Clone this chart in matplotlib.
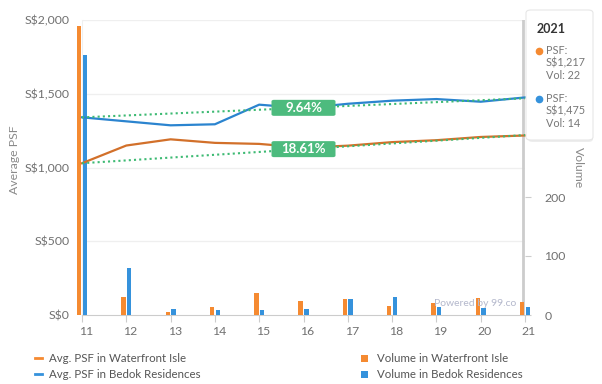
import matplotlib
matplotlib.use("Agg")
import matplotlib.pyplot as plt
from matplotlib.patches import FancyBboxPatch, Rectangle
import matplotlib.transforms as mtrans
import numpy as np

plt.rcParams['font.family'] = ['Lato', 'DejaVu Sans']

years = [11, 12, 13, 14, 15, 16, 17, 18, 19, 20, 21]
year_labels = ["11", "12", "13", "14", "15", "16", "17", "18", "19", "20", "21"]
psf_waterfront = [1029, 1149, 1191, 1167, 1160, 1135, 1148, 1172, 1185, 1207, 1217]
psf_bedok = [1340, 1313, 1286, 1293, 1426, 1402, 1432, 1453, 1464, 1446, 1475]
vol_waterfront = [489, 31, 5, 13, 38, 24, 27, 16, 21, 28, 22]
vol_bedok = [440, 79, 10, 9, 9, 11, 27, 30, 13, 12, 14]
trend_x = [11, 21]
trend_bedok = [1340, 1469]
trend_waterfront = [1029, 1220]
trend_labels = ["9.64%", "18.61%"]
left_ticks = [0, 500, 1000, 1500, 2000]
left_ticklabels = ["S$0", "S$500", "S$1,000", "S$1,500", "S$2,000"]
right_ticks = [0, 100, 200]

ORANGE = "#f58a31"
ORANGE_LINE = "#d2702a"
BLUE = "#3592dc"
BLUE_LINE = "#2b84cf"
GREEN = "#3dba73"
GREEN_BOX = "#4dbb7e"
GRAY_TXT = "#707070"

W, H = 602, 384
fig = plt.figure(figsize=(W / 100, H / 100), dpi=100)

def fx(px):
    return px / W

def fy(py):
    return 1 - py / H

ax = fig.add_axes([fx(82), fy(315), fx(525) - fx(82), fy(20) - fy(315)])
ax2 = ax.twinx()

x = np.array(years, dtype=float)
ax.set_xlim(11, 21)
ax.set_ylim(0, 2000)
ax2.set_ylim(0, 500)

# grid
for t in left_ticks[1:]:
    ax.axhline(t, color="#efefef", lw=0.9, zorder=0)

# bars
bw = 0.1
ax2.bar(x - 0.065, vol_waterfront, width=bw, color=ORANGE, clip_on=False, zorder=2)
ax2.bar(x + 0.065, vol_bedok, width=bw, color=BLUE, clip_on=False, zorder=2)

# PSF lines
ax2.plot(x, psf_waterfront, color=ORANGE_LINE, lw=1.6, zorder=3, transform=ax.transData, clip_on=False)
ax2.plot(x, psf_bedok, color=BLUE_LINE, lw=1.6, zorder=3, transform=ax.transData, clip_on=False)

# trend lines with labels
for series, lab in zip([trend_bedok, trend_waterfront], trend_labels):
    ax2.plot(trend_x, series, color=GREEN, lw=1.5, ls=(0, (1, 1.5)), zorder=4, transform=ax.transData)
    ymid = np.interp(16, trend_x, series)
    ax2.text(16, ymid, lab, transform=ax.transData, ha="center", va="center",
             color="white", fontsize=9.5, fontweight="bold", zorder=6)
    p = ax.transData.transform((16, ymid))
    bx, by = fig.transFigure.inverted().transform(p)
    bg = FancyBboxPatch((bx - fx(32), by - 8 / H), fx(64), 16 / H,
                        boxstyle="round,pad=0,rounding_size=0.004",
                        transform=fig.transFigure, fc=GREEN_BOX, ec="none", zorder=5)
    ax2.add_artist(bg)

# crosshair
ax2.axvline(20.95, color="#cccccc", lw=2, zorder=1.5)

# axes styling
for s in ["top", "right"]:
    ax.spines[s].set_visible(False)
    ax2.spines[s].set_visible(False)
ax.spines["left"].set_color("#f0f0f0")
ax2.spines["left"].set_visible(False)
ax.spines["bottom"].set_color("#cccccc")
ax2.spines["bottom"].set_visible(False)

ax.set_xticks(x)
ax.set_xticklabels(year_labels)
ax.tick_params(axis="x", length=5, color="#cccccc", labelcolor=GRAY_TXT, labelsize=8.8, pad=3)
ax.set_yticks(left_ticks)
ax.set_yticklabels(left_ticklabels)
ax.tick_params(axis="y", length=0, labelcolor=GRAY_TXT, labelsize=8.8, pad=9)
ax2.set_yticks(right_ticks)
ax2.tick_params(axis="y", length=4, color="#cccccc", labelcolor=GRAY_TXT, labelsize=8.8, pad=10)

off = mtrans.ScaledTranslation(4 / 100, 0, fig.dpi_scale_trans)
for lbl in ax.get_xticklabels():
    lbl.set_transform(lbl.get_transform() + off)

fig.text(fx(14), fy(160), "Average PSF", rotation=90, ha="center", va="center",
         color="#8a8a8a", fontsize=8.8)
fig.text(fx(578), fy(168), "Volume", rotation=-90, ha="center", va="center",
         color="#8a8a8a", fontsize=8.8)

# watermark
fig.text(fx(516), fy(304), "Powered by 99.co", ha="right", va="center",
         color="#b4b8cc", fontsize=7.5, zorder=5)

# tooltip
shadow = FancyBboxPatch((fx(528), fy(142)), fx(593) - fx(528), fy(12) - fy(142),
                        boxstyle="round,pad=0,rounding_size=0.008",
                        transform=fig.transFigure, fc="#00000012", ec="none", zorder=9)
fig.patches.append(shadow)
tip = FancyBboxPatch((fx(526), fy(140)), fx(593) - fx(526), fy(10) - fy(140),
                     boxstyle="round,pad=0,rounding_size=0.008",
                     transform=fig.transFigure, fc="white", ec="#e6e6e6", lw=0.8, zorder=10)
fig.patches.append(tip)
fig.text(fx(537), fy(29), "2021", ha="left", va="center", color="#333333",
         fontsize=9, fontweight="bold", zorder=11)
tip_rows = [(ORANGE, 51, ["PSF:", "S$1,217", "Vol: 22"]),
            (BLUE, 99, ["PSF:", "S$1,475", "Vol: 14"])]
for col, y0, lines in tip_rows:
    fig.lines.append(plt.Line2D([fx(539)], [fy(y0)], marker="o", ms=4.5, color=col,
                                transform=fig.transFigure, zorder=11))
    for i, t in enumerate(lines):
        fig.text(fx(546), fy(y0 + 12.3 * i), t, ha="left", va="center",
                 color="#777777", fontsize=7.8, zorder=11)

# legend
leg_txt = "#555555"
fig.lines.append(plt.Line2D([fx(35), fx(42)], [fy(358), fy(358)], color=ORANGE, lw=2,
                            transform=fig.transFigure))
fig.lines.append(plt.Line2D([fx(35), fx(42)], [fy(374), fy(374)], color=BLUE, lw=2,
                            transform=fig.transFigure))
fig.text(fx(49), fy(358), "Avg. PSF in Waterfront Isle", ha="left", va="center",
         color=leg_txt, fontsize=8.3)
fig.text(fx(49), fy(374), "Avg. PSF in Bedok Residences", ha="left", va="center",
         color=leg_txt, fontsize=8.3)
for col, yy in [(ORANGE, 358), (BLUE, 374)]:
    fig.patches.append(Rectangle((fx(361), fy(yy + 3.5)), fx(7), 7 / H, fc=col, ec="none",
                                 transform=fig.transFigure))
fig.text(fx(377), fy(358), "Volume in Waterfront Isle", ha="left", va="center",
         color=leg_txt, fontsize=8.3)
fig.text(fx(377), fy(374), "Volume in Bedok Residences", ha="left", va="center",
         color=leg_txt, fontsize=8.3)

fig.savefig("out.png", dpi=100)
